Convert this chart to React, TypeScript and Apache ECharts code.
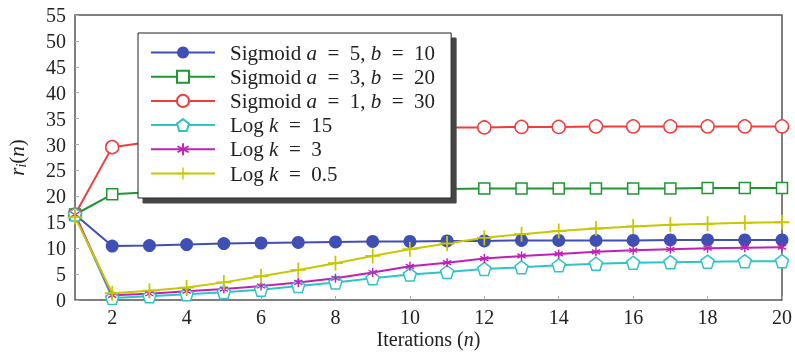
import React, { useEffect, useRef } from "react";
import * as echarts from "echarts";

const iterations = [1, 2, 3, 4, 5, 6, 7, 8, 9, 10, 11, 12, 13, 14, 15, 16, 17, 18, 19, 20];
const xTicks = [2, 4, 6, 8, 10, 12, 14, 16, 18, 20];

const sigA5B10 = [16.5, 10.4, 10.5, 10.7, 10.9, 11.0, 11.1, 11.2, 11.3, 11.3, 11.4, 11.4, 11.5, 11.5, 11.5, 11.5, 11.6, 11.6, 11.6, 11.6];
const sigA3B20 = [16.5, 20.4, 20.8, 21.0, 21.1, 21.2, 21.3, 21.3, 21.4, 21.4, 21.4, 21.5, 21.5, 21.5, 21.5, 21.5, 21.5, 21.6, 21.6, 21.6];
const sigA1B30 = [16.5, 29.5, 30.5, 31.5, 32.2, 32.6, 32.9, 33.1, 33.2, 33.3, 33.3, 33.3, 33.4, 33.4, 33.5, 33.5, 33.5, 33.5, 33.5, 33.5];
const logK15 = [16.5, 0.4, 0.7, 1.1, 1.5, 2.0, 2.7, 3.4, 4.2, 4.9, 5.4, 6.0, 6.3, 6.7, 7.0, 7.2, 7.3, 7.4, 7.5, 7.5];
const logK3 = [16.5, 0.9, 1.2, 1.7, 2.1, 2.7, 3.4, 4.2, 5.3, 6.5, 7.2, 8.0, 8.5, 8.9, 9.3, 9.6, 9.8, 10.0, 10.1, 10.2];
const logK05 = [16.0, 1.3, 1.8, 2.4, 3.4, 4.6, 5.8, 7.1, 8.5, 9.8, 10.9, 12.0, 12.7, 13.3, 13.8, 14.2, 14.5, 14.7, 14.9, 15.0];

const seriesNames = [
  "Sigmoid a = 5, b = 10",
  "Sigmoid a = 3, b = 20",
  "Sigmoid a = 1, b = 30",
  "Log k = 15",
  "Log k = 3",
  "Log k = 0.5",
];
const E = "\u2002=\u2002";
const legendRich: Record<string, string> = {
  "Sigmoid a = 5, b = 10": `{p|}{n|Sigmoid }{i|a}{n|${E}5, }{i|b}{n|${E}10}`,
  "Sigmoid a = 3, b = 20": `{p|}{n|Sigmoid }{i|a}{n|${E}3, }{i|b}{n|${E}20}`,
  "Sigmoid a = 1, b = 30": `{p|}{n|Sigmoid }{i|a}{n|${E}1, }{i|b}{n|${E}30}`,
  "Log k = 15": `{p|}{n|Log }{i|k}{n|${E}15}`,
  "Log k = 3": `{p|}{n|Log }{i|k}{n|${E}3}`,
  "Log k = 0.5": `{p|}{n|Log }{i|k}{n|${E}0.5}`,
};

const SERIF = "'Liberation Serif', 'DejaVu Serif', serif";
const TXT = "#222";

const pentagon = "path://M0,-1 L0.951,-0.309 L0.588,0.809 L-0.588,0.809 L-0.951,-0.309 Z";
const plus =
  "path://M-0.12,-1 L0.12,-1 L0.12,-0.12 L1,-0.12 L1,0.12 L0.12,0.12 L0.12,1 L-0.12,1 L-0.12,0.12 L-1,0.12 L-1,-0.12 L-0.12,-0.12 Z";
const asterisk =
  "path://M-0.15,-1 L0.15,-1 L0.15,1 L-0.15,1 Z M-0.941,-0.37 L-0.791,-0.63 L0.941,0.37 L0.791,0.63 Z M-0.791,0.63 L-0.941,0.37 L0.791,-0.63 L0.941,-0.37 Z";

export default function App() {
  const ref = useRef<HTMLDivElement>(null);
  useEffect(() => {
    if (!ref.current) return;
    const chart = echarts.init(ref.current, undefined, { renderer: "svg" });
    const pairs = (vals: number[]) => iterations.map((x, i) => [x, vals[i]]);
    const mk = (
      name: string,
      vals: number[],
      color: string,
      symbol: string,
      size: number | number[],
      itemStyle: any
    ) => ({
      name,
      type: "line",
      data: pairs(vals),
      symbol,
      symbolSize: size,
      showAllSymbol: true,
      lineStyle: { color, width: 2 },
      itemStyle,
      emphasis: { disabled: true },
    });
    chart.setOption({
      animation: false,
      grid: {
        left: 75,
        right: 13,
        top: 15,
        bottom: 52,
        outerBoundsMode: "none",
        containLabel: false,
        show: true,
        borderColor: "#555",
        borderWidth: 1.5,
        backgroundColor: "transparent",
      },
      xAxis: {
        type: "value",
        min: 1,
        max: 20,
        name: "{n|Iterations (}{i|n}{n|)}",
        nameLocation: "middle",
        nameGap: 29,
        nameMoveOverlap: false,
        nameTextStyle: {
          verticalAlign: "top",
          rich: {
            n: { fontFamily: SERIF, fontSize: 20, lineHeight: 20, color: TXT },
            i: { fontFamily: SERIF, fontSize: 20, lineHeight: 20, fontStyle: "italic", color: TXT },
          },
        },
        axisLine: { show: false },
        splitLine: { show: false },
        axisTick: { show: true, inside: true, length: 4, customValues: xTicks, lineStyle: { color: "#aaa" } },
        axisLabel: { customValues: xTicks, fontFamily: SERIF, fontSize: 20, lineHeight: 20, color: TXT, margin: 7 },
      },
      yAxis: {
        type: "value",
        min: 0,
        max: 55,
        interval: 5,
        name: "{i|r}{s|i}{n|(}{i|n}{n|)}",
        nameLocation: "middle",
        nameRotate: 90,
        nameGap: 47,
        nameMoveOverlap: false,
        nameTextStyle: {
          rich: {
            n: { fontFamily: SERIF, fontSize: 21, color: TXT },
            i: { fontFamily: SERIF, fontSize: 21, fontStyle: "italic", color: TXT },
            s: { fontFamily: SERIF, fontSize: 14, fontStyle: "italic", color: TXT, padding: [8, 0, 0, 0] },
          },
        },
        axisLine: { show: false },
        splitLine: { show: false },
        axisTick: { show: true, inside: true, length: 4, lineStyle: { color: "#aaa" } },
        axisLabel: { fontFamily: SERIF, fontSize: 20, color: TXT, margin: 9 },
      },
      legend: {
        data: seriesNames,
        orient: "vertical",
        left: 138,
        top: 33,
        itemWidth: 64,
        itemHeight: 15,
        itemGap: 3.2,
        padding: [9, 16, 14, 12],
        backgroundColor: "#fff",
        borderColor: "#222",
        borderWidth: 1,
        shadowColor: "#444",
        shadowBlur: 0,
        shadowOffsetX: 5,
        shadowOffsetY: 5,
        formatter: (name: string) => legendRich[name] || name,
        textStyle: {
          rich: {
            p: { width: 10 },
            n: { fontFamily: SERIF, fontSize: 21, lineHeight: 22, color: TXT },
            i: { fontFamily: SERIF, fontSize: 21, lineHeight: 22, fontStyle: "italic", color: TXT },
          },
        },
      },
      series: [
        mk(seriesNames[0], sigA5B10, "#3f4fb3", "circle", 13, { color: "#3f4fb3" }),
        mk(seriesNames[1], sigA3B20, "#1e9632", "rect", 11, { color: "#fff", borderColor: "#1e9632", borderWidth: 1.5 }),
        mk(seriesNames[2], sigA1B30, "#f03c3c", "circle", 13, { color: "#fff", borderColor: "#f03c3c", borderWidth: 1.5 }),
        mk(seriesNames[3], logK15, "#2ec4c4", pentagon, 13, { color: "#fff", borderColor: "#2ec4c4", borderWidth: 1.5 }),
        mk(seriesNames[4], logK3, "#c020b8", asterisk, 9, { color: "#c020b8" }),
        mk(seriesNames[5], logK05, "#c8c800", plus, 15, { color: "#c8c800" }),
      ],
    });
    return () => chart.dispose();
  }, []);
  return <div ref={ref} style={{ position: "fixed", left: 0, top: 0, width: 795, height: 352 }} />;
}
